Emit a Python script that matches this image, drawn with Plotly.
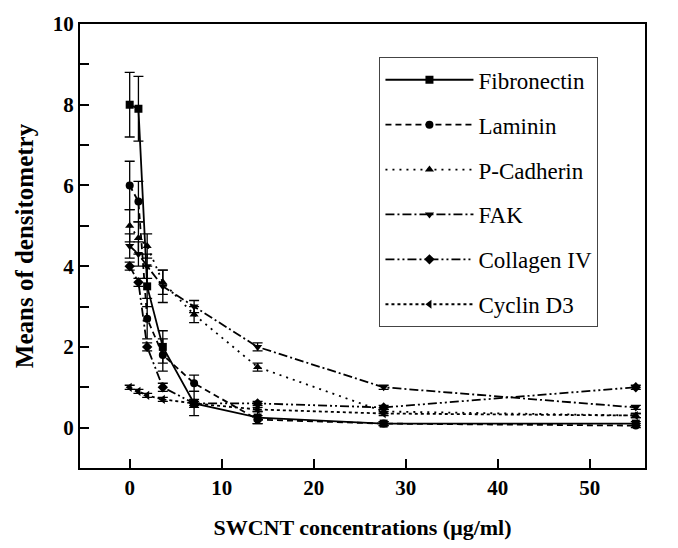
import plotly.graph_objects as go

conc = [0, 0.95, 1.9, 3.6, 7.0, 13.9, 27.6, 55.0]

names = ["Fibronectin", "Laminin", "P-Cadherin", "FAK", "Collagen IV", "Cyclin D3"]
fibronectin = [8.0, 7.9, 3.5, 2.0, 0.6, 0.25, 0.1, 0.1]
laminin = [6.0, 5.6, 2.7, 1.8, 1.1, 0.2, 0.1, 0.05]
p_cadherin = [5.0, 4.7, 4.5, 3.6, 2.8, 1.5, 0.4, 0.3]
fak = [4.5, 4.3, 4.0, 3.5, 3.0, 2.0, 1.0, 0.5]
collagen_iv = [4.0, 3.6, 2.0, 1.0, 0.6, 0.6, 0.5, 1.0]
cyclin_d3 = [1.0, 0.9, 0.8, 0.7, 0.6, 0.45, 0.35, 0.3]

err_fibronectin = [0.8, 0.8, 0.5, 0.4, 0.3, 0.15, 0.05, 0.05]
err_laminin = [0.6, 0.5, 0.5, 0.4, 0.2, 0.1, 0.05, 0.05]
err_p_cadherin = [0.4, 0.4, 0.3, 0.3, 0.2, 0.1, 0.05, 0.05]
err_fak = [0.3, 0.3, 0.3, 0.4, 0.15, 0.1, 0.05, 0.05]
err_collagen_iv = [0.1, 0.1, 0.1, 0.1, 0.1, 0.05, 0.05, 0.05]
err_cyclin_d3 = [0.05, 0.05, 0.05, 0.05, 0.05, 0.05, 0.05, 0.05]

series = [fibronectin, laminin, p_cadherin, fak, collagen_iv, cyclin_d3]
errors = [err_fibronectin, err_laminin, err_p_cadherin, err_fak, err_collagen_iv, err_cyclin_d3]
symbols = ["square", "circle", "triangle-up", "triangle-down", "diamond", "triangle-left"]
dashes = ["solid", "6px,4px", "2px,5px", "9px,3px,2px,3px", "9px,3px,2px,3px,2px,3px", "3px,3px"]

FONT = "Liberation Serif, Times New Roman, serif"

fig = go.Figure()
for name, ys, es, sym, dash in zip(names, series, errors, symbols, dashes):
    fig.add_trace(go.Scatter(
        x=conc, y=ys, name=name, mode="lines+markers", legendgroup=name,
        line=dict(color="black", width=1.8, dash=dash),
        marker=dict(symbol=sym, size=8, color="black"),
        error_y=dict(type="data", array=es, color="black", thickness=1.3, width=5),
    ))

fig.update_layout(
    width=678, height=548,
    margin=dict(l=80, r=33, t=20, b=76),
    paper_bgcolor="white", plot_bgcolor="white",
    font=dict(family=FONT, color="black"),
    showlegend=True,
    legend=dict(
        x=0.53, y=0.925, xanchor="left", yanchor="top",
        bordercolor="#444", borderwidth=1, bgcolor="white",
        font=dict(family=FONT, size=23, color="black"),
        itemwidth=88, tracegroupgap=12,
    ),
    xaxis=dict(
        range=[-5.4, 56], tickvals=[0, 10, 20, 30, 40, 50],
        ticks="inside", ticklen=9, tickwidth=2, tickcolor="black",
        showline=True, linewidth=2, linecolor="black", mirror=True,
        showgrid=False, zeroline=False,
        tickfont=dict(family=FONT, size=21, color="black", weight="bold"),
        title=dict(text="<b>SWCNT concentrations (μg/ml)</b>", font=dict(family=FONT, size=22), standoff=20),
    ),
    yaxis=dict(
        range=[-1, 10], tickvals=[0, 2, 4, 6, 8, 10],
        ticks="inside", ticklen=9, tickwidth=2, tickcolor="black",
        minor=dict(tickvals=[-1, 1, 3, 5, 7, 9], ticks="inside", ticklen=9, tickwidth=2, tickcolor="black"),
        showline=True, linewidth=2, linecolor="black", mirror=True,
        showgrid=False, zeroline=False,
        tickfont=dict(family=FONT, size=21, color="black", weight="bold"),
        title=dict(text="<b>Means of densitometry</b>", font=dict(family=FONT, size=25), standoff=12),
    ),
)

fig.write_html("out.html")
